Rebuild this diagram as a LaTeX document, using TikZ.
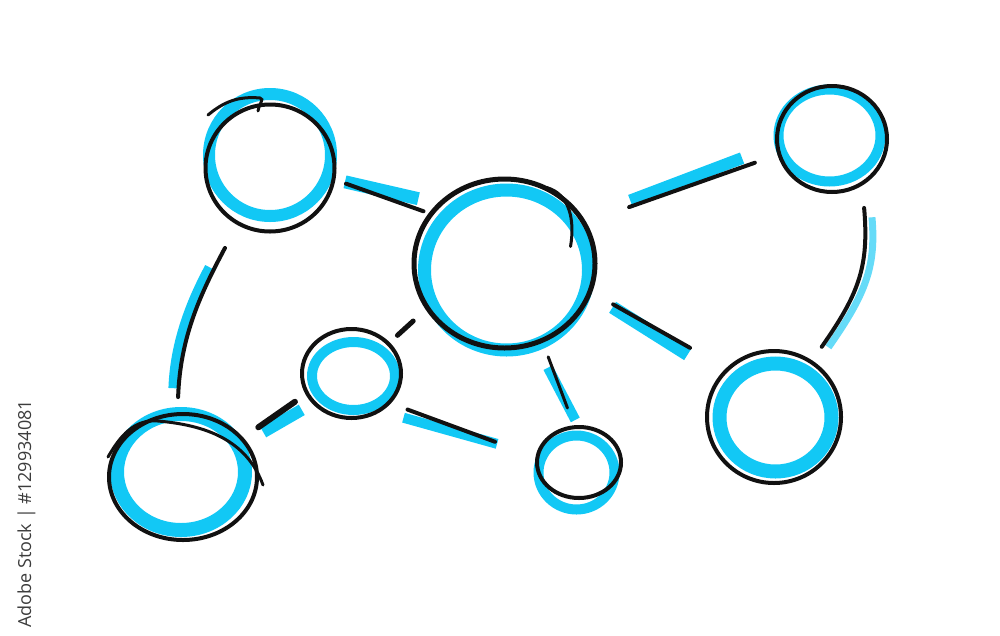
\documentclass[tikz,border=0pt]{standalone}
\usepackage{fontspec}
\newfontfamily\stockfont{Open Sans}
\usetikzlibrary{shapes.geometric, backgrounds}

\definecolor{marker}{RGB}{18,200,245}
\definecolor{ink}{RGB}{17,17,17}
\definecolor{stockgray}{RGB}{60,60,60}

\begin{document}
\begin{tikzpicture}[x=1pt, y=-1pt,
    bubble/.style={ellipse, draw=ink, line width=4pt, inner sep=0pt, outer sep=0pt},
    inkline/.style={draw=ink, line width=4pt, line cap=round},
    markline/.style={draw=marker, line width=12pt},
  ]
    \useasboundingbox (0, 0) rectangle (1000, 635);

    \node[bubble, minimum width=129pt, minimum height=127pt] (nw) at (270, 168) {};
    \node[bubble, line width=5pt, minimum width=181pt, minimum height=169pt] (hub) at (504.5, 263.5) {};
    \node[bubble, minimum width=110pt, minimum height=106pt] (ne) at (832, 139) {};
    \node[bubble, minimum width=134pt, minimum height=132pt] (se) at (774, 417) {};
    \node[bubble, minimum width=148pt, minimum height=126pt] (sw) at (183, 477) {};
    \node[bubble, minimum width=99pt, minimum height=89pt] (mid) at (351.5, 373.5) {};
    \node[bubble, minimum width=84pt, minimum height=71pt] (low) at (579, 462.5) {};

    \begin{scope}[on background layer]
        \draw[markline] ([shift={(0pt,13pt)}]nw.center) ellipse (61pt and 61pt);
        \draw[markline, line width=13pt] ([shift={(2pt,-6.5pt)}]hub.center) ellipse (82pt and 80pt);
        \draw[markline, line width=10pt] ([shift={(-2.5pt,3.5pt)}]ne.center) ellipse (51pt and 46pt);
        \draw[markline, line width=14pt] ([shift={(1.5pt,-0.5pt)}]se.center) ellipse (56pt and 54pt);
        \draw[markline, line width=14pt] ([shift={(-2pt,5pt)}]sw.center) ellipse (64pt and 58pt);
        \draw[markline, line width=10pt] ([shift={(2pt,-2.5pt)}]mid.center) ellipse (41.5pt and 34pt);
        \draw[markline, line width=10pt] ([shift={(-2.5pt,-10pt)}]low.center) ellipse (38pt and 37pt);

        \draw[markline, line width=13pt, shorten <=11.8pt, shorten >=22.7pt] (nw.-10) -- (hub.137.3);
        \draw[markline, shorten <=52.2pt, shorten >=37.7pt] (hub.30.5) -- (ne.186);
        \draw[markline, line width=13pt, shorten <=27.4pt, shorten >=40.1pt] (hub.-19.7) -- (se.142.2);
        \draw[markline, line width=10pt, shorten <=27.8pt, shorten >=8pt] (hub.-69.9) -- (low.90.3);
        \draw[markline, shorten <=21pt, shorten >=14.3pt] (sw.29.4) -- (mid.218.6);
        \draw[markline, line width=10pt, shorten <=25.9pt, shorten >=42.4pt] (mid.-54.8) -- (low.170);
        \draw[markline, line width=10pt, transform canvas={xshift=-5pt}, shorten <=50pt, shorten >=26pt]
            (nw.-120) to[out=-118, in=88] (sw.95);
        \draw[markline, draw=marker!65, line width=7pt, transform canvas={xshift=7pt}, shorten <=34pt, shorten >=18pt]
            (ne.-56) to[out=-85, in=55, looseness=1.15] (se.56.6);
    \end{scope}

    \draw[inkline, shorten <=13.3pt, shorten >=8.1pt] (nw.-10.2) -- (hub.146.6);
    \draw[inkline, shorten <=47.9pt, shorten >=25.9pt] (hub.27.2) -- (ne.196.4);
    \draw[inkline, shorten <=26.6pt, shorten >=43.4pt] (hub.-18.5) -- (se.134);
    \draw[inkline, line width=3pt, shorten <=17.6pt, shorten >=20.5pt] (hub.-64.1) -- (low.97.7);
    \draw[inkline, line width=5pt, shorten <=12.4pt, shorten >=19.4pt] (mid.39.9) -- (hub.210.2);
    \draw[inkline, line width=6pt, shorten <=20.1pt, shorten >=14.9pt] (sw.33.6) -- (mid.204.5);
    \draw[inkline, shorten <=19.9pt, shorten >=45.2pt] (mid.-38.9) -- (low.173);
    \draw[inkline, shorten <=28pt, shorten >=17.1pt] (nw.-120) to[out=-118, in=88] (sw.95);
    \draw[inkline, shorten <=24.6pt, shorten >=18.6pt] (ne.-56) to[out=-85, in=55, looseness=1.15] (se.56.6);

    \draw[inkline, line width=3pt] ([shift={(42pt,76pt)}]hub.center) to[out=-15, in=80] ([shift={(66pt,17pt)}]hub.center);
    \draw[inkline, line width=3pt] ([shift={(-62pt,53pt)}]nw.center) to[out=40, in=175] ([shift={(-10pt,70pt)}]nw.center)
        to[out=-5, in=90] ([shift={(-12pt,57pt)}]nw.center);
    \draw[inkline, line width=3pt] ([shift={(-75pt,20pt)}]sw.center) to[out=60, in=175] ([shift={(-25pt,56pt)}]sw.center)
        to[out=-5, in=110] ([shift={(80pt,-8pt)}]sw.center);

    \node[rotate=90, anchor=base west, inner sep=0pt, text=stockgray, font=\stockfont\fontsize{18}{18}\selectfont]
        (stock) at (31, 628) {Adobe Stock | \#129934081};
\end{tikzpicture}
\end{document}
